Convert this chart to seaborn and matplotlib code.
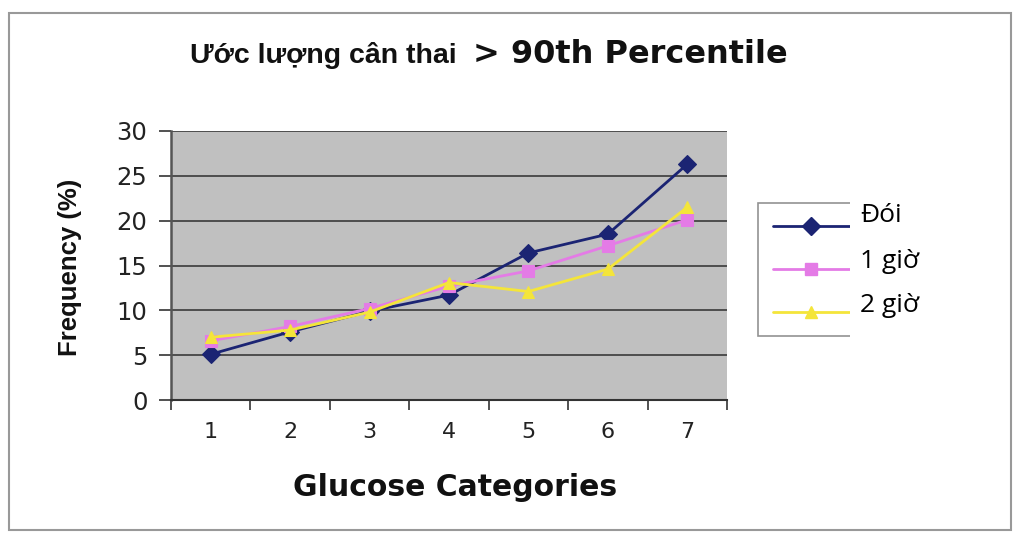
import matplotlib
matplotlib.use("Agg")
import matplotlib.pyplot as plt
from matplotlib.patches import Rectangle
from matplotlib.lines import Line2D
import seaborn as sns
import pandas as pd

categories = [1, 2, 3, 4, 5, 6, 7]
fasting = [5.1, 7.6, 9.9, 11.7, 16.4, 18.5, 26.3]
one_hour = [6.6, 8.2, 10.2, 12.7, 14.4, 17.2, 20.1]
two_hour = [7.0, 7.8, 9.8, 13.1, 12.1, 14.6, 21.5]
series_names = ["Đói", "1 giờ", "2 giờ"]
y_ticks = [0, 5, 10, 15, 20, 25, 30]

title_vi = "Ước lượng cân thai"
title_en = "> 90th Percentile"
x_label = "Glucose Categories"
y_label = "Frequency (%)"

colors = ["#1b2473", "#e47be6", "#f4e53a"]
markers = ["D", "s", "^"]

W, H = 1013, 533

df = pd.DataFrame({
    "cat": categories * 3,
    "value": fasting + one_hour + two_hour,
    "series": [series_names[0]] * 7 + [series_names[1]] * 7 + [series_names[2]] * 7,
})

sns.set_theme(style="white")
plt.rcParams["font.family"] = ["DejaVu Sans"]

fig = plt.figure(figsize=(W / 100, H / 100), dpi=100)
ax = fig.add_axes([171 / W, 1 - 400 / H, 556 / W, 269 / H])
ax.set_facecolor("#c0c0c0")

sns.lineplot(data=df, x="cat", y="value", hue="series", style="series",
             palette=colors, markers=markers, dashes=False, markersize=9,
             linewidth=2, markeredgewidth=0.8, ax=ax, legend=False)
for ln, c in zip(ax.lines, colors):
    ln.set_markeredgecolor(c)

ax.set_xlim(0.5, 7.5)
ax.set_ylim(0, 30)
ax.set_yticks(y_ticks)
ax.yaxis.grid(True, color="#3a3a3a", linewidth=1.2)
ax.set_axisbelow(True)

# tick marks at category boundaries, labels at category centres
ax.set_xticks([i + 0.5 for i in range(0, 8)])
ax.set_xticklabels([])
ax.set_xticks(categories, minor=True)
ax.set_xticklabels([str(c) for c in categories], minor=True, fontsize=16, color="#222222")
ax.tick_params(axis="x", which="major", direction="out", length=7, width=1.2, color="#333333", bottom=True)
ax.tick_params(axis="x", which="minor", length=0, pad=16)
ax.tick_params(axis="y", direction="out", length=9, width=1.2, color="#333333", left=True,
               labelsize=17.5, labelcolor="#222222", pad=8)

for side in ["top", "right"]:
    ax.spines[side].set_visible(False)
ax.spines["left"].set_color("#555555")
ax.spines["left"].set_linewidth(1.8)
ax.spines["bottom"].set_color("#333333")
ax.spines["bottom"].set_linewidth(1.5)

ax.set_xlabel(x_label, fontsize=21.5, fontweight="bold", color="#111111")
ax.xaxis.set_label_coords((455 - 171) / 556, -(487 - 400) / 269)
ax.xaxis.label.set_va("center")
ax.set_ylabel(y_label, fontsize=18.5, fontweight="bold", color="#111111",
              family=["Liberation Sans", "DejaVu Sans"])
ax.yaxis.set_label_coords((70 - 171) / 556, (400 - 267) / 269)
ax.yaxis.label.set_va("center")

# two-part chart title
fig.text(190 / W, 1 - 63 / H, title_vi, fontsize=20.5, fontweight="bold", ha="left",
         va="baseline", color="#111111", family=["Liberation Sans", "DejaVu Sans"])
fig.text(473 / W, 1 - 63 / H, title_en, fontsize=23, fontweight="bold", ha="left",
         va="baseline", color="#111111", family=["DejaVu Sans"])

# outer chart frame
fig.patches.append(Rectangle((9 / W, 1 - 530 / H), 1002 / W, 517 / H,
                             transform=fig.transFigure, fill=False, edgecolor="#999999",
                             linewidth=1.5))

# legend: symbol box plus labels
handles = [Line2D([], [], color=c, marker=m, markersize=9, linewidth=2,
                  markeredgecolor=c) for c, m in zip(colors, markers)]
leg = fig.legend(handles, ["", "", ""], loc="upper left",
                 bbox_to_anchor=(758 / W, 1 - 203 / H), borderaxespad=0,
                 frameon=True, handlelength=4.6, handletextpad=0.0,
                 labelspacing=1.48, borderpad=0.9, fontsize=12)
leg.get_frame().set_edgecolor("#777777")
leg.get_frame().set_linewidth(1.2)
leg.get_frame().set_boxstyle("square", pad=0)
cover = Rectangle((850 / W, 1 - 345 / H), 150 / W, 160 / H,
                  transform=fig.transFigure, facecolor="white", edgecolor="none")
cover.set_zorder(10)
fig.patches.append(cover)
for lbl, ypx in zip(series_names, [215, 262, 306]):
    fig.text(860 / W, 1 - ypx / H, lbl, fontsize=19, family=["Open Sans", "DejaVu Sans"],
             ha="left", va="center", color="black", zorder=11)

fig.savefig("out.png", dpi=100, facecolor="white")
